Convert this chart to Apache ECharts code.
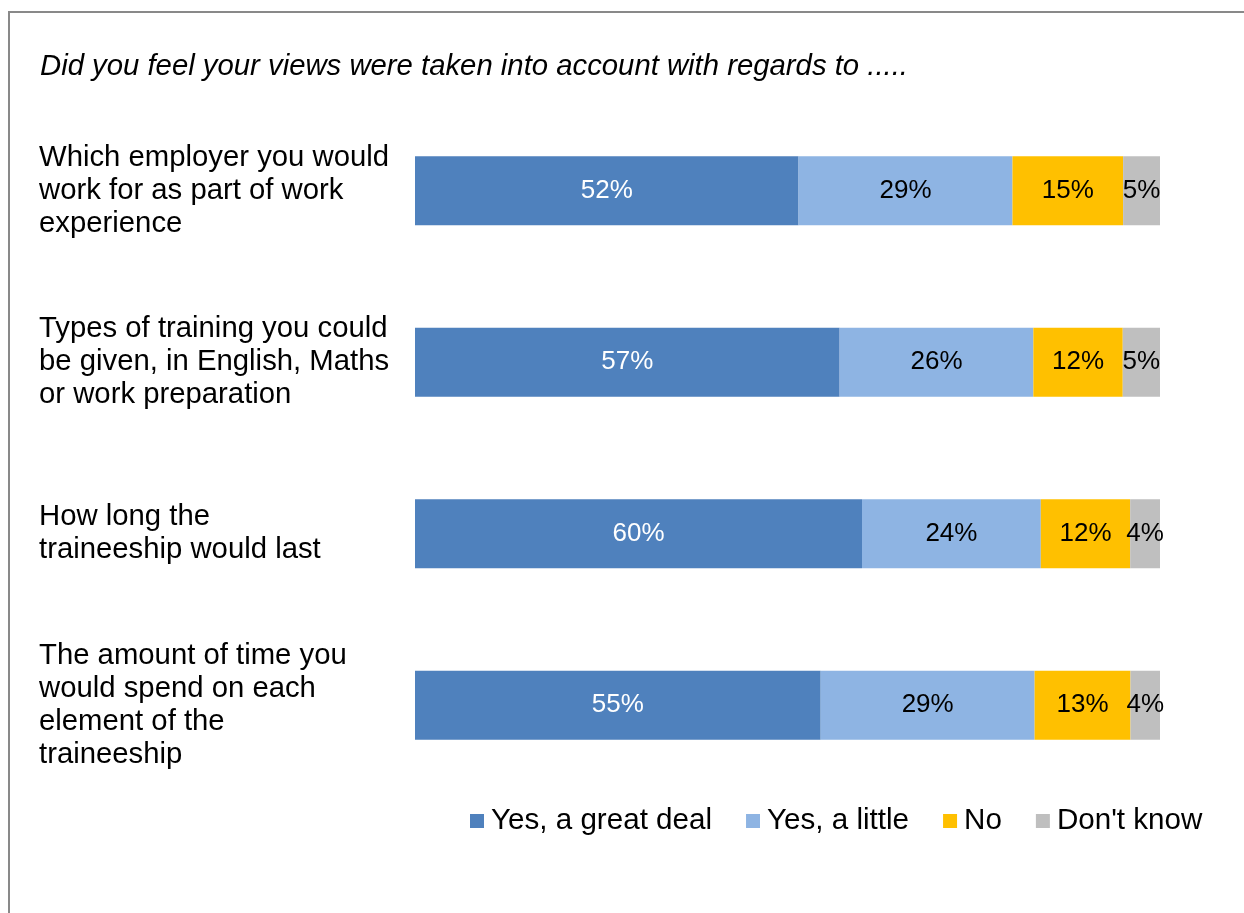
<!DOCTYPE html>
<html>
<head>
<meta charset="utf-8">
<title>views taken into account</title>
<script src="https://cdn.jsdelivr.net/npm/echarts/dist/echarts.min.js"></script>
<style>
    html, body { margin: 0; padding: 0; background: #fff; }
    #main { width: 1244px; height: 913px; }
</style>
</head>
<body>
<div id="main"></div>
<script>
/* 数据 */
var categories = [
    'Which employer you would\nwork for as part of work\nexperience',
    'Types of training you could\nbe given, in English, Maths\nor work preparation',
    'How long the\ntraineeship would last',
    'The amount of time you\nwould spend on each\nelement of the\ntraineeship'
];
var seriesNames = ['Yes, a great deal', 'Yes, a little', 'No', "Don't know"];
var yesGreatDeal = [52, 57, 60, 55];
var yesLittle = [29, 26, 24, 29];
var noVals = [15, 12, 12, 13];
var dontKnow = [5, 5, 4, 4];
var colors = ['#4F81BD', '#8EB4E3', '#FFC000', '#BFBFBF'];
var labelColors = ['#fff', '#000', '#000', '#000'];

var rows = [yesGreatDeal, yesLittle, noVals, dontKnow];
var font = 'Arial, "Liberation Sans", sans-serif';

// 100% 堆积: 每行按合计归一
var totals = categories.map(function (c, i) {
    return rows.reduce(function (s, r) { return s + r[i]; }, 0);
});

var ySeries = [];
for (var k = 0; k < rows.length; k++) {
    (function (k) {
        ySeries.push({
            name: seriesNames[k],
            type: 'bar',
            stack: 'total',
            barWidth: 69,
            itemStyle: { color: colors[k] },
            label: {
                show: true,
                position: 'inside',
                color: labelColors[k],
                fontFamily: font,
                fontSize: 26,
                formatter: function (p) { return rows[k][p.dataIndex] + '%'; }
            },
            data: rows[k].map(function (v, i) { return v / totals[i] * 100; })
        });
    })(k);
}

var chart = echarts.init(document.getElementById('main'));
chart.setOption({
    animation: false,
    textStyle: { fontFamily: font },
    title: {
        text: 'Did you feel your views were taken into account with regards to .....',
        left: 35,
        top: 47,
        textStyle: {
            fontFamily: font,
            fontSize: 29.3,
            fontStyle: 'italic',
            fontWeight: 'normal',
            color: '#000'
        }
    },
    legend: {
        data: seriesNames,
        left: 465,
        top: 801,
        itemWidth: 14,
        itemHeight: 14,
        itemGap: 34,
        icon: 'rect',
        textStyle: { fontFamily: font, fontSize: 29.6, color: '#000', padding: [0, 0, 0, 2] }
    },
    grid: {
        left: 415,
        right: 84,
        top: 105,
        height: 686
    },
    xAxis: {
        type: 'value',
        min: 0,
        max: 100,
        show: false
    },
    yAxis: {
        type: 'category',
        inverse: true,
        data: categories,
        axisLine: { show: false },
        axisTick: { show: false },
        axisLabel: {
            align: 'left',
            margin: 376,
            fontFamily: font,
            fontSize: 29.3,
            lineHeight: 33,
            color: '#000'
        }
    },
    graphic: [{
        type: 'rect',
        shape: { x: 9, y: 12, width: 1300, height: 1000 },
        style: { fill: null, stroke: '#898989', lineWidth: 2 },
        silent: true
    }],
    series: ySeries
});
</script>
</body>
</html>
